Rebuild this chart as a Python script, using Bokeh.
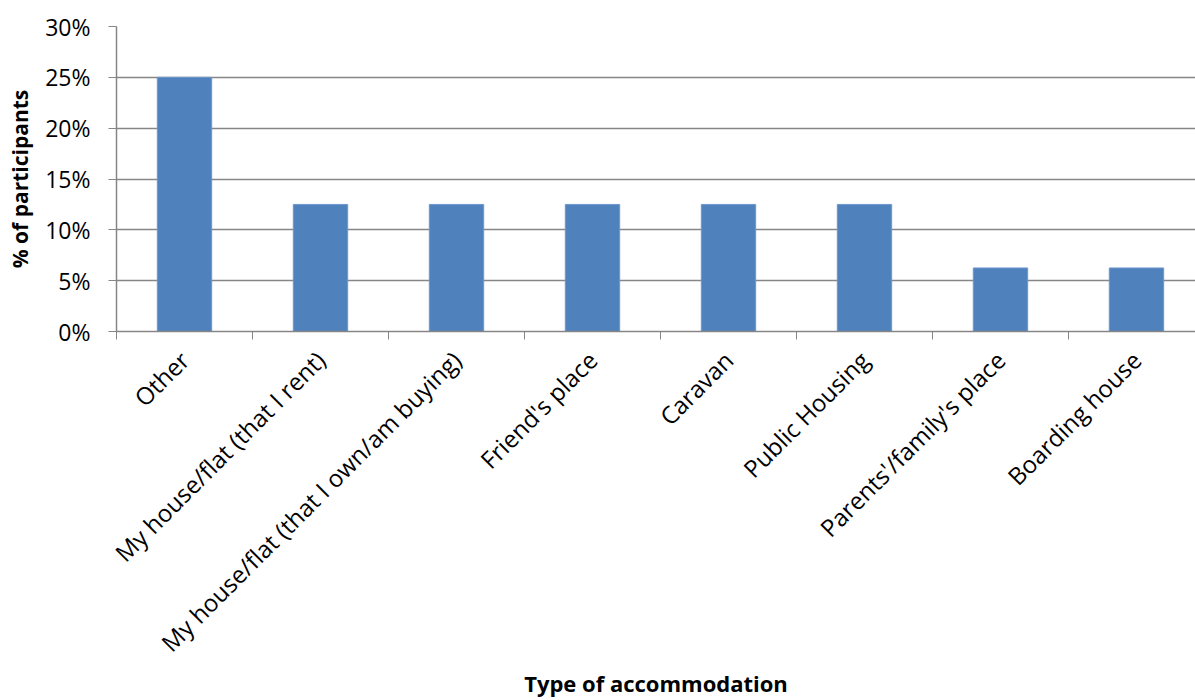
from bokeh.plotting import figure
from bokeh.models import FixedTicker, NumeralTickFormatter, Range1d, ColumnDataSource
from bokeh.embed import file_html
from bokeh.resources import INLINE
import math

categories = ["Other", "My house/flat (that I rent)", "My house/flat (that I own/am buying)",
              "Friend's place", "Caravan", "Public Housing", "Parents'/family's place", "Boarding house"]
values = [0.25, 0.125, 0.125, 0.125, 0.125, 0.125, 0.0625, 0.0625]
y_ticks = [0, 0.05, 0.10, 0.15, 0.20, 0.25, 0.30]

FONT = "Open Sans"
GRAY = "#868686"

n = len(categories)
centers = [i + 0.5 for i in range(n)]
src = ColumnDataSource(dict(x=centers, top=values, cat=categories))

p = figure(width=1195, height=700, output_backend="svg", toolbar_location=None,
           x_range=Range1d(0, 7.934), y_range=Range1d(0, 0.30),
           min_border_left=116, min_border_top=26, min_border_right=0, min_border_bottom=367)
p.outline_line_color = None
p.background_fill_color = "white"

p.vbar(x="x", top="top", bottom=0, width=0.4, source=src,
       fill_color="#4F81BD", line_color="#6E97CC", line_width=1)

# x axis
xa = p.xaxis[0]
xa.ticker = FixedTicker(ticks=centers, minor_ticks=list(range(n + 1)))
xa.major_label_overrides = {c: cat for c, cat in zip(centers, categories)}
xa.major_label_orientation = math.pi / 4
xa.major_tick_out = 0
xa.major_tick_in = 0
xa.minor_tick_out = 8
xa.minor_tick_in = 0
xa.minor_tick_line_color = GRAY
xa.axis_line_color = GRAY
xa.axis_line_width = 1.5
xa.major_label_text_font = FONT
xa.major_label_text_font_size = "24px"
xa.major_label_text_color = "black"
xa.major_label_standoff = 16
xa.axis_label = "Type of accommodation"
xa.axis_label_text_font = FONT
xa.axis_label_text_font_style = "bold"
xa.axis_label_text_font_size = "22px"
xa.axis_label_text_color = "black"
xa.axis_label_standoff = -5

# y axis
ya = p.yaxis[0]
ya.ticker = FixedTicker(ticks=y_ticks, minor_ticks=[])
ya.formatter = NumeralTickFormatter(format="0%")
ya.major_tick_out = 8
ya.major_tick_in = 0
ya.major_tick_line_color = GRAY
ya.axis_line_color = GRAY
ya.axis_line_width = 1.5
ya.major_label_text_font = FONT
ya.major_label_text_font_size = "23px"
ya.major_label_text_color = "black"
ya.major_label_standoff = 18
ya.axis_label = "% of participants"
ya.axis_label_text_font = FONT
ya.axis_label_text_font_style = "bold"
ya.axis_label_text_font_size = "21px"
ya.axis_label_text_color = "black"
ya.axis_label_standoff = 8

p.xgrid.grid_line_color = None
p.ygrid.ticker = FixedTicker(ticks=y_ticks)
p.ygrid.grid_line_color = GRAY
p.ygrid.grid_line_width = 1.5

open("out.html", "w").write(file_html(p, INLINE))
